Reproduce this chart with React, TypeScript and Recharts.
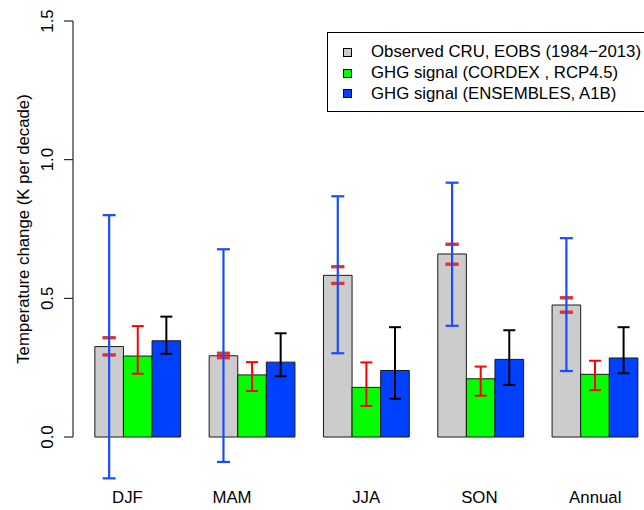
import { Bar, BarChart, ErrorBar, Legend, XAxis, YAxis } from "recharts";

const seasons = ["DJF", "MAM", "JJA", "SON", "Annual"];

// observed trend (CRU / EOBS) with its two uncertainty ranges
const observed = [0.326, 0.293, 0.583, 0.66, 0.476];
const observedLow = [0.296, 0.286, 0.554, 0.623, 0.45];
const observedHigh = [0.358, 0.302, 0.614, 0.695, 0.502];
const observedRangeLow = [-0.149, -0.09, 0.302, 0.401, 0.238];
const observedRangeHigh = [0.8, 0.677, 0.868, 0.917, 0.717];

const cordex = [0.292, 0.224, 0.179, 0.21, 0.226];
const cordexLow = [0.228, 0.166, 0.112, 0.149, 0.169];
const cordexHigh = [0.4, 0.27, 0.269, 0.254, 0.275];

const ensembles = [0.347, 0.27, 0.24, 0.28, 0.285];
const ensemblesLow = [0.3, 0.219, 0.138, 0.188, 0.23];
const ensemblesHigh = [0.434, 0.374, 0.396, 0.385, 0.396];

const seriesNames = [
  "Observed CRU, EOBS (1984−2013)",
  "GHG signal (CORDEX , RCP4.5)",
  "GHG signal (ENSEMBLES, A1B)",
];

const yTicks = [0, 0.5, 1, 1.5];

const data = seasons.map((season, i) => ({
  season,
  observed: observed[i],
  observedLow: observedLow[i],
  observedHigh: observedHigh[i],
  observedRangeLow: observedRangeLow[i],
  observedRangeHigh: observedRangeHigh[i],
  cordex: cordex[i],
  cordexLow: cordexLow[i],
  cordexHigh: cordexHigh[i],
  ensembles: ensembles[i],
  ensemblesLow: ensemblesLow[i],
  ensemblesHigh: ensemblesHigh[i],
}));

type Row = (typeof data)[number];
type Key = keyof Row;

const FONT = '"Liberation Sans", Arial, Helvetica, sans-serif';
const FONT_SIZE = 16.8;

// [below, above] deltas for ErrorBar
const spread = (key: Key, lo: Key, hi: Key) => (d: Row) => [
  (d[key] as number) - (d[lo] as number),
  (d[hi] as number) - (d[key] as number),
];
// zero-length bar -> a lone cap at the given value
const capAt = (key: Key, at: Key) => (d: Row) => [
  (d[key] as number) - (d[at] as number),
  (d[at] as number) - (d[key] as number),
];

// R put the season names slightly off the group centres
const labelShift: Record<string, number> = {
  DJF: -10.5,
  MAM: -20.3,
  JJA: -0.5,
  SON: -1.6,
  Annual: 0,
};

function XTick({ x, y, payload }: any) {
  return (
    <text
      x={x + (labelShift[payload.value] ?? 0)}
      y={y}
      dy={21.6}
      textAnchor="middle"
      fontFamily={FONT}
      fontSize={FONT_SIZE}
      fill="#000"
    >
      {payload.value}
    </text>
  );
}

// axis line only spans the tick range (0 .. 1.5), so each tick draws
// the segment back to the previous one; the last one also places the title
let tickYs: number[] = [];
function YTick({ x, y, payload, index, visibleTicksCount }: any) {
  if (index === 0) tickYs = [];
  tickYs[index] = y;
  const prev = index > 0 ? tickYs[index - 1] : y;
  const isLast = index === visibleTicksCount - 1;
  const mid = (tickYs[0] + y) / 2;
  return (
    <g>
      <line x1={x} x2={x} y1={prev} y2={y} stroke="#000" strokeWidth={1} />
      <line x1={x - 9} x2={x} y1={y} y2={y} stroke="#000" strokeWidth={1} />
      <text
        x={x - 20}
        y={y}
        transform={`rotate(-90 ${x - 20} ${y})`}
        textAnchor="middle"
        fontFamily={FONT}
        fontSize={FONT_SIZE}
        fill="#000"
      >
        {Number(payload.value).toFixed(1)}
      </text>
      {isLast && (
        <text
          x={x - 43.5}
          y={mid}
          transform={`rotate(-90 ${x - 43.5} ${mid})`}
          textAnchor="middle"
          fontFamily={FONT}
          fontSize={FONT_SIZE}
          fill="#000"
        >
          Temperature change (K per decade)
        </text>
      )}
    </g>
  );
}

function LegendBox({ payload }: any) {
  const items = [...(payload ?? [])].sort(
    (a: any, b: any) => seriesNames.indexOf(a.value) - seriesNames.indexOf(b.value),
  );
  return (
    <div
      style={{
        boxSizing: "border-box",
        border: "1px solid #000",
        background: "#fff",
        height: 80,
        width: 330,
        paddingTop: 9,
        paddingLeft: 15,
        fontFamily: FONT,
        fontSize: FONT_SIZE,
        lineHeight: "20.8px",
        color: "#000",
        whiteSpace: "nowrap",
      }}
    >
      {items.map((entry: any) => (
        <div key={entry.value} style={{ display: "flex", alignItems: "center", height: 20.8 }}>
          <span
            style={{
              display: "inline-block",
              boxSizing: "border-box",
              width: 9,
              height: 9,
              background: entry.color,
              border: "1px solid #000",
              marginRight: 19,
            }}
          />
          <span>{entry.value}</span>
        </div>
      ))}
    </div>
  );
}

export default function App() {
  return (
    <div
      style={{
        position: "absolute",
        left: 0,
        top: 0,
        width: 644,
        height: 510,
        overflow: "hidden",
        background: "#fff",
      }}
    >
      <BarChart
        width={660}
        height={510}
        data={data}
        margin={{ top: 21, right: 7.6, bottom: 0, left: 0 }}
        barCategoryGap="12.5%"
        barGap={0}
      >
        <XAxis
          dataKey="season"
          axisLine={false}
          tickLine={false}
          tickSize={0}
          tickMargin={0}
          height={28.6}
          padding={{ left: 7.85, right: 0 }}
          interval={0}
          tick={XTick}
        />
        <YAxis
          type="number"
          domain={[-0.16, 1.5]}
          ticks={yTicks}
          width={73}
          axisLine={false}
          tickLine={false}
          tickSize={0}
          tickMargin={0}
          interval={0}
          tick={YTick}
        />
        <Legend
          layout="vertical"
          align="center"
          verticalAlign="middle"
          wrapperStyle={{ left: 327, top: 32, width: 340, height: 80 }}
          content={<LegendBox />}
        />
        <Bar
          dataKey="observed"
          name={seriesNames[0]}
          fill="#cccccc"
          stroke="#1a1a1a"
          strokeWidth={1}
          barSize={28.6}
          isAnimationActive={false}
        >
          <ErrorBar dataKey={capAt("observed", "observedHigh")} width={6.5} stroke="#df3434" strokeWidth={3} />
          <ErrorBar dataKey={capAt("observed", "observedLow")} width={6.5} stroke="#df3434" strokeWidth={3} />
          <ErrorBar
            dataKey={spread("observed", "observedRangeLow", "observedRangeHigh")}
            width={6.5}
            stroke="#1a4cff"
            strokeWidth={2.2}
          />
        </Bar>
        <Bar
          dataKey="cordex"
          name={seriesNames[1]}
          fill="#00ff00"
          stroke="#1a1a1a"
          strokeWidth={1}
          barSize={28.6}
          isAnimationActive={false}
        >
          <ErrorBar dataKey={spread("cordex", "cordexLow", "cordexHigh")} width={6} stroke="#ff0000" strokeWidth={2} />
        </Bar>
        <Bar
          dataKey="ensembles"
          name={seriesNames[2]}
          fill="#0040ff"
          stroke="#1a1a1a"
          strokeWidth={1}
          barSize={28.6}
          isAnimationActive={false}
        >
          <ErrorBar
            dataKey={spread("ensembles", "ensemblesLow", "ensemblesHigh")}
            width={6}
            stroke="#000"
            strokeWidth={2}
          />
        </Bar>
      </BarChart>
    </div>
  );
}
